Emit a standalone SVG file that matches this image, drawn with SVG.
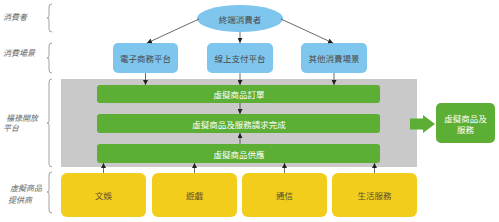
<svg xmlns="http://www.w3.org/2000/svg" width="499" height="222" viewBox="0 0 499 222">
<style>
.lbl{font-family:"Noto Sans CJK TC","Noto Sans CJK SC",sans-serif;font-size:8px;font-style:italic;fill:#666}
.t{font-family:"Noto Sans CJK TC","Noto Sans CJK SC",sans-serif;font-size:8.5px;text-anchor:middle;dominant-baseline:central}
.dark{fill:#4a4a4a}
.wh{fill:#ffffff}
.ye{fill:#5a5030}
.blue{fill:#7ec6ee}
.green{fill:#5cae35}
.yellow{fill:#f3cd1b}
.brace{fill:none;stroke:#8a8a8a;stroke-width:0.8}
.conn{stroke:#444;stroke-width:0.8;fill:none;marker-end:url(#ah)}
</style>
<defs>
<marker id="ah" viewBox="0 0 10 10" refX="10" refY="5" markerWidth="5" markerHeight="5" orient="auto" markerUnits="userSpaceOnUse">
<path d="M0,0 L10,5 L0,10 z" fill="#222"/>
</marker>
</defs>
<rect width="499" height="222" fill="#ffffff"/>

<g id="labels">
<text class="lbl" x="3" y="20">消費者</text>
<text class="lbl" x="3" y="56">消費場景</text>
<text class="lbl" x="6" y="121">福祿開放</text>
<text class="lbl" x="3" y="131">平台</text>
<text class="lbl" x="10" y="191">虛擬商品</text>
<text class="lbl" x="8" y="203">提供商</text>
</g>
<g id="braces">
<path class="brace" d="M52,4 Q49,4 49,7 L49,16 Q49,18 47,18 Q49,18 49,20 L49,29 Q49,32 52,32"/>
<path class="brace" d="M52,43 Q49,43 49,46 L49,56 Q49,58 47,58 Q49,58 49,60 L49,70 Q49,73 52,73"/>
<path class="brace" d="M52,79 Q49,79 49,82 L49,121 Q49,123 47,123 Q49,123 49,125 L49,164 Q49,167 52,167"/>
<path class="brace" d="M52,172 Q49,172 49,175 L49,190 Q49,192 47,192 Q49,192 49,194 L49,210 Q49,213 52,213"/>
</g>

<g id="platform">
<rect x="61" y="79" width="356" height="88" fill="#c9c9c9"/>
</g>

<g id="consumer">
<ellipse cx="240" cy="18.5" rx="43" ry="13.5" class="blue"/>
<text class="t dark" x="240" y="18.5">終端消費者</text>
</g>
<g id="ecommerce">
<rect x="113" y="43" width="65" height="30" rx="5" class="blue"/>
<text class="t dark" x="145.5" y="58">電子商務平台</text>
</g>
<g id="payment">
<rect x="207" y="43" width="66" height="30" rx="5" class="blue"/>
<text class="t dark" x="240" y="58">線上支付平台</text>
</g>
<g id="other">
<rect x="301" y="43" width="66" height="30" rx="5" class="blue"/>
<text class="t dark" x="334" y="58">其他消費場景</text>
</g>

<g id="order">
<rect x="97" y="85" width="283" height="18" rx="3" class="green"/>
<text class="t wh" x="239" y="94">虛擬商品訂單</text>
</g>
<g id="fulfil">
<rect x="97" y="114" width="283" height="19" rx="3" class="green"/>
<text class="t wh" x="239" y="123.5">虛擬商品及服務請求完成</text>
</g>
<g id="supply">
<rect x="97" y="144" width="283" height="19" rx="3" class="green"/>
<text class="t wh" x="239" y="153.5">虛擬商品供應</text>
</g>

<g id="result">
<rect x="436" y="103" width="59" height="40" rx="5" class="green"/>
<text class="t wh" x="465.5" y="118">虛擬商品及</text>
<text class="t wh" x="465.5" y="129">服務</text>
</g>

<g id="ent">
<rect x="61" y="173" width="85" height="44" rx="6" class="yellow"/>
<text class="t ye" x="103.5" y="195">文娛</text>
</g>
<g id="games">
<rect x="152" y="173" width="85" height="44" rx="6" class="yellow"/>
<text class="t ye" x="194.5" y="195">遊戲</text>
</g>
<g id="telecom">
<rect x="242" y="173" width="85" height="44" rx="6" class="yellow"/>
<text class="t ye" x="284.5" y="195">通信</text>
</g>
<g id="life">
<rect x="332" y="173" width="85" height="44" rx="6" class="yellow"/>
<text class="t ye" x="374.5" y="195">生活服務</text>
</g>

<g id="connectors">
<line class="conn" x1="199" y1="19" x2="147" y2="43"/>
<line class="conn" x1="240" y1="32" x2="240" y2="43"/>
<line class="conn" x1="281" y1="19" x2="333" y2="43"/>
<line class="conn" x1="145.5" y1="73" x2="145.5" y2="85"/>
<line class="conn" x1="240" y1="73" x2="240" y2="85"/>
<line class="conn" x1="334" y1="73" x2="334" y2="85"/>
<line class="conn" x1="240" y1="103" x2="240" y2="114"/>
<line class="conn" x1="240" y1="144" x2="240" y2="133"/>
<line class="conn" x1="103.5" y1="173" x2="103.5" y2="163"/>
<line class="conn" x1="194.5" y1="173" x2="194.5" y2="163"/>
<line class="conn" x1="284.5" y1="173" x2="284.5" y2="163"/>
<line class="conn" x1="374.5" y1="173" x2="374.5" y2="163"/>
<path d="M410,118.5 L423,118.5 L423,115 L435,124 L423,133 L423,129.5 L410,129.5 z" class="green"/>
</g>
</svg>
